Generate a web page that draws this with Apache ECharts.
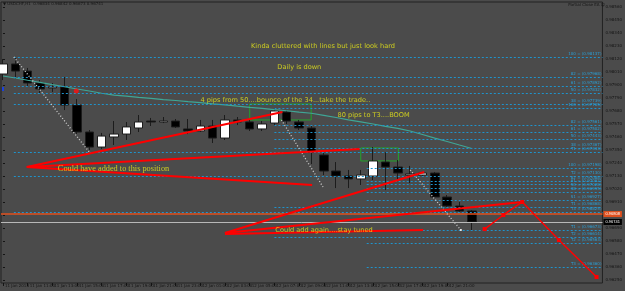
<!DOCTYPE html>
<html><head><meta charset="utf-8">
<script src="https://cdn.jsdelivr.net/npm/echarts@6/dist/echarts.min.js"></script>
<style>html,body{margin:0;padding:0;background:#4b4b4b}#c{width:625px;height:291px}</style>
</head><body><div id="c"></div>
<script>
// ---- data (hourly candles, index 0 = 11 Jan 09:00) ----
const opens  = [0.97993,0.98078,0.98018,0.97917,0.97875,0.97883,0.97730,0.97502,0.97375,0.97460,0.97485,0.97536,0.97595,0.97587,0.97595,0.97528,0.97511,0.97553,0.97451,0.97604,0.97587,0.97528,0.97578,0.97671,0.97587,0.97536,0.97308,0.97172,0.97130,0.97105,0.97130,0.97248,0.97206,0.97138,0.97138,0.97155,0.96952,0.96876,0.96834];
const closes = [0.98078,0.98018,0.97917,0.97866,0.97883,0.97730,0.97502,0.97375,0.97468,0.97485,0.97545,0.97587,0.97587,0.97595,0.97545,0.97511,0.97553,0.97451,0.97604,0.97587,0.97528,0.97570,0.97680,0.97595,0.97536,0.97333,0.97172,0.97130,0.97105,0.97138,0.97257,0.97206,0.97155,0.97147,0.97155,0.96952,0.96876,0.96834,0.96741];
const lows   = [0.97942,0.97951,0.97883,0.97832,0.97841,0.97688,0.97485,0.97350,0.97358,0.97392,0.97435,0.97502,0.97553,0.97578,0.97536,0.97485,0.97502,0.97409,0.97435,0.97561,0.97511,0.97511,0.97553,0.97570,0.97519,0.97231,0.97138,0.97028,0.97028,0.97054,0.97096,0.97011,0.97096,0.97071,0.97130,0.96944,0.96868,0.96825,0.96673];
const highs  = [0.98120,0.98137,0.98044,0.97942,0.97917,0.97968,0.97781,0.97519,0.97494,0.97595,0.97587,0.97646,0.97621,0.97629,0.97612,0.97612,0.97604,0.97604,0.97646,0.97629,0.97604,0.97595,0.97705,0.97688,0.97604,0.97561,0.97350,0.97248,0.97181,0.97181,0.97375,0.97333,0.97265,0.97215,0.97164,0.97164,0.96969,0.96910,0.96842];
const maValues = [0.97976,0.97959,0.97940,0.97922,0.97903,0.97885,0.97866,0.97849,0.97830,0.97814,0.97805,0.97795,0.97787,0.97777,0.97769,0.97759,0.97751,0.97741,0.97732,0.97721,0.97711,0.97702,0.97691,0.97682,0.97671,0.97661,0.97643,0.97625,0.97605,0.97588,0.97570,0.97550,0.97533,0.97511,0.97481,0.97451,0.97422,0.97392,0.97363];

const xTickIdx = [0,2,4,6,8,10,12,14,16,18,20,22,24,26,28,30,32,34,36,38];
const xTickLabels = ['11 Jan 2018','11 Jan 11:00','11 Jan 13:00','11 Jan 15:00','11 Jan 17:00','11 Jan 19:00','11 Jan 21:00','11 Jan 23:00','12 Jan 01:00','12 Jan 03:00','12 Jan 05:00','12 Jan 07:00','12 Jan 09:00','12 Jan 11:00','12 Jan 13:00','12 Jan 15:00','12 Jan 17:00','12 Jan 19:00','12 Jan 21:00','12 Jan 23:00'];
const yTickValues = [0.98560,0.98450,0.98340,0.98230,0.98120,0.98010,0.97900,0.97790,0.97680,0.97570,0.97460,0.97350,0.97240,0.97130,0.97020,0.96910,0.96800,0.96690,0.96580,0.96470,0.96360,0.96250];

// fibonacci / target levels: name, price, starting bar index
const fibNames  = ['100','82','61','50','38','T1','T2','T3', '100','82','61','50','38','T1','T2', '100','82','61','50','38','S1','T1','T2','T3'];
const fibPrices = [0.98137,0.97968,0.97892,0.97832,0.97739,0.97333,0.97130,0.96825, 0.97705,0.97561,0.97502,0.97443,0.97367,0.96868,0.96614, 0.97198,0.97088,0.97062,0.97028,0.96995,0.96927,0.96673,0.96563,0.96360];
const fibStarts = [0.88,0.88,0.88,0.88,0.88,0.88,0.88,0.88, 22.0,22.0,22.0,22.0,22.0,22.0,22.0, 29.48,29.48,29.48,29.48,29.48,29.48,29.48,29.48,29.48];

// red trend lines [x1, price1, x2, price2]
const redSegments = [
  [1.93,0.97206,22.65,0.97672],
  [1.93,0.97206,28.91,0.97358],
  [1.93,0.97206,25.06,0.97054],
  [17.99,0.96648,34.14,0.97164],
  [17.99,0.96648,42.09,0.96910],
  [17.99,0.96639,34.06,0.96673]
];
// projected zigzag
const projX = [39.04,40.56,42.09,45.06,48.11];
const projY = [0.96681,0.96800,0.96910,0.96588,0.96275];
// gray dotted swing lines
const swingSegments = [
  [0.88,0.98137,6.99,0.97333],
  [22.57,0.97604,25.94,0.97037],
  [33.01,0.97181,37.11,0.96673]
];
// green boxes [x1,p1,x2,p2]
const boxes = [[20.0,0.97739,24.98,0.97604],[29.0,0.97367,32.05,0.97257]];
const orangeLevel = 0.96808;
const bidLevel = 0.96741;

const notes = [
  {t:'Kinda cluttered with lines but just look hard', x:25.94, p:0.98230, f:'DejaVu Sans', s:6.6},
  {t:'Daily is down', x:24.02, p:0.98052, f:'DejaVu Sans', s:6.6},
  {t:'4 pips from 50....bounce of the 34...take the trade..', x:22.89, p:0.97773, f:'DejaVu Sans', s:6.6},
  {t:'80 pips to T3....BOOM', x:30.04, p:0.97646, f:'DejaVu Sans', s:6.6},
  {t:'Could have added to this position', x:8.96, p:0.97189, f:'Liberation Serif', s:8.3},
  {t:'Could add again....stay tuned', x:26.02, p:0.96673, f:'DejaVu Sans', s:6.6}
];

const xMin = -0.16, xMax = 48.59;
const chart = echarts.init(document.getElementById('c'), null, {renderer:'canvas'});

const series = [];
series.push({
  type:'line', data:[], z:1, silent:true,
  markLine:{symbol:['none','none'], silent:true, animation:false, precision:5,
    lineStyle:{color:'#1f93cc', width:1, type:[2,2]},
    label:{show:true, position:'insideEndTop', formatter:p=>p.name, color:'#2a9fd6', fontSize:4, distance:1, fontFamily:'DejaVu Sans'},
    data: fibNames.map((n,i)=>[{name: n+' = ('+fibPrices[i].toFixed(5)+')', coord:[fibStarts[i], fibPrices[i]]},{coord:[xMax, fibPrices[i]]}])
  }
});
series.push({
  type:'line', data:[], z:2, silent:true,
  markLine:{symbol:['none','none'], silent:true, animation:false, precision:5,
    data:[
      {yAxis:orangeLevel, lineStyle:{color:'#e0501e', width:1.5, type:'solid'},
       label:{show:true, position:'end', distance:1, formatter:orangeLevel.toFixed(5), backgroundColor:'#e0501e', color:'#ffffff', fontSize:4, padding:[1,2]}},
      {yAxis:bidLevel, lineStyle:{color:'#b8b8b8', width:1, type:'solid'},
       label:{show:true, position:'end', distance:1, formatter:bidLevel.toFixed(5), backgroundColor:'#000000', color:'#ffffff', fontSize:4, padding:[1,2]}}
    ]
  },
  markArea:{silent:true, itemStyle:{color:'rgba(0,0,0,0)', borderColor:'#22a52a', borderWidth:1},
    data: boxes.map(b=>[{coord:[b[0],b[1]]},{coord:[b[2],b[3]]}])}
});
series.push({
  type:'candlestick', z:3, barWidth:9,
  itemStyle:{color:'#ffffff', color0:'#000000', borderColor:'#1c1c1c', borderColor0:'#1c1c1c', borderWidth:1},
  data: opens.map((o,i)=>[i, o, closes[i], lows[i], highs[i]])
});
series.push({type:'line', z:4, symbol:'none', lineStyle:{color:'#3fa696', width:1.2}, data: maValues.map((v,i)=>[i,v])});
swingSegments.forEach(s=>series.push({type:'line', z:5, symbol:'none', lineStyle:{color:'#cfcfcf', width:1.3, type:[1,2]}, data:[[s[0],s[1]],[s[2],s[3]]]}));
redSegments.forEach(s=>series.push({type:'line', z:6, symbol:'none', lineStyle:{color:'#ff0000', width:2}, data:[[s[0],s[1]],[s[2],s[3]]]}));
series.push({type:'line', z:6, symbol:'rect', symbolSize:4, itemStyle:{color:'#ff0000'}, lineStyle:{color:'#ff0000', width:1.5}, data: projX.map((x,i)=>[x,projY[i]])});
series.push({type:'scatter', z:7, data:[
  {value:[5.94,0.97849], symbol:'circle', symbolSize:5, itemStyle:{color:'#ff1010'}},
  {value:[0,0.97866], symbol:'rect', symbolSize:[2,4], itemStyle:{color:'#1040ff'}},
  {value:[37.11,0.96673], symbol:'rect', symbolSize:2, itemStyle:{color:'#ffffff'}}
]});
series.push({type:'scatter', z:8, symbolSize:1, itemStyle:{color:'rgba(0,0,0,0)'},
  data: notes.map(n=>({value:[n.x,n.p], name:n.t, label:{show:true, position:'inside', formatter:n.t, color:'#e8e818', fontFamily:n.f, fontSize:n.s}}))});

chart.setOption({
  animation:false,
  backgroundColor:'#4b4b4b',
  title:[
    {text:'\u25BC USDCHF,H1  0.96834 0.96842 0.96673 0.96741', left:3, top:2, padding:0, textStyle:{fontSize:4, color:'#141414', fontWeight:'normal', fontFamily:'DejaVu Sans'}},
    {text:'Partial Close EA \u263A', right:20, top:3, padding:0, textStyle:{fontSize:4, color:'#141414', fontWeight:'normal', fontFamily:'DejaVu Sans'}}
  ],
  grid:{left:1, right:17, top:2, bottom:8, show:true, borderColor:'#222222', borderWidth:1, backgroundColor:'rgba(0,0,0,0)'},
  xAxis:{type:'value', min:xMin, max:xMax, splitLine:{show:false}, axisLine:{show:false},
    axisTick:{show:true, customValues:xTickIdx, length:3, lineStyle:{color:'#141414'}},
    axisLabel:{customValues:xTickIdx, formatter:v=>xTickLabels[Math.round(v/2)], align:'left', fontSize:4, color:'#141414', margin:1, padding:[0,0,0,2], fontFamily:'DejaVu Sans'}},
  yAxis:{type:'value', position:'right', min:0.962245, max:0.986023, scale:true, splitLine:{show:false}, axisLine:{show:false},
    axisTick:{show:true, customValues:yTickValues, length:2, lineStyle:{color:'#141414'}},
    axisLabel:{customValues:yTickValues, formatter:v=>v.toFixed(5), fontSize:4, color:'#141414', margin:3, fontFamily:'DejaVu Sans'}},
  series
});
</script></body></html>
